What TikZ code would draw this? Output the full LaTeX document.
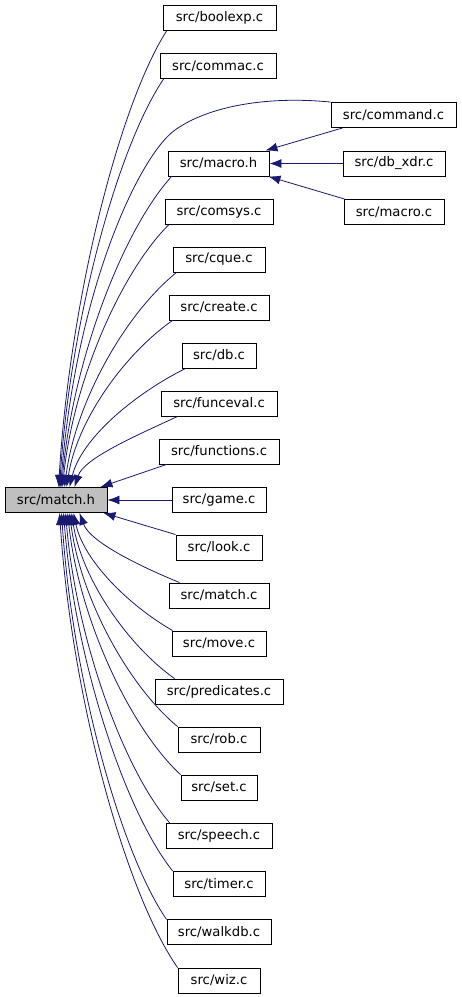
\documentclass[tikz,border=0pt]{standalone}
\usepackage{fontspec}
\setmainfont{DejaVu Sans}
\usetikzlibrary{arrows.meta,calc}
\definecolor{edgecol}{HTML}{191970}
\definecolor{hl}{HTML}{BFBFBF}
\begin{document}
\begin{tikzpicture}[x=1pt,y=-1pt,
  box/.style={draw=black, line width=0.9pt, minimum height=25pt, inner sep=0pt, font=\fontsize{13.2}{15}\selectfont},
  edge/.style={draw=edgecol, line width=0.8pt, -{Latex[length=12pt,width=9pt]}}]
\fill[white] (0,0) rectangle (461,997);
\useasboundingbox (0,0) rectangle (461,997);
% nodes
\node[box, minimum width=102pt, fill=hl] (matchh) at (56,500) {src/match.h};
\node[box, minimum width=113pt] (boolexp) at (219.5,18) {src/boolexp.c};
\node[box, minimum width=116pt] (commac) at (218,66.1) {src/commac.c};
\node[box, minimum width=125pt] (command) at (393.5,115) {src/command.c};
\node[box, minimum width=101pt] (macroh) at (218.5,163.5) {src/macro.h};
\node[box, minimum width=102pt] (dbxdr) at (394,163.5) {src/db\_xdr.c};
\node[box, minimum width=100pt] (macroc) at (394,212) {src/macro.c};
\node[box, minimum width=108pt] (comsys) at (219,212) {src/comsys.c};
\node[box, minimum width=92pt] (cque) at (219,259.5) {src/cque.c};
\node[box, minimum width=100pt] (create) at (219,307.5) {src/create.c};
\node[box, minimum width=74pt] (db) at (219,355.5) {src/db.c};
\node[box, minimum width=116pt] (funceval) at (219,403.5) {src/funceval.c};
\node[box, minimum width=120pt] (functions) at (219,451.5) {src/functions.c};
\node[box, minimum width=94pt] (game) at (219,500) {src/game.c};
\node[box, minimum width=86pt] (look) at (219,547.5) {src/look.c};
\node[box, minimum width=100pt] (matchc) at (219,595.5) {src/match.c};
\node[box, minimum width=94pt] (move) at (219,643.5) {src/move.c};
\node[box, minimum width=128pt] (predicates) at (219,691.5) {src/predicates.c};
\node[box, minimum width=82pt] (rob) at (219,739.5) {src/rob.c};
\node[box, minimum width=76pt] (set) at (219,787.6) {src/set.c};
\node[box, minimum width=106pt] (speech) at (219,835.7) {src/speech.c};
\node[box, minimum width=92pt] (timer) at (219,883.8) {src/timer.c};
\node[box, minimum width=104pt] (walkdb) at (219,932.4) {src/walkdb.c};
\node[box, minimum width=82pt] (wiz) at (219,980.5) {src/wiz.c};
% edges to match.h (upper)
\draw[edge] ([xshift=4pt]boolexp.south west) .. controls +(-48.6,76.5) and +(10.8,-182.6) .. ([xshift=54pt]matchh.north west);
\draw[edge] ([xshift=4pt]commac.south west) .. controls +(-46.8,69.3) and +(10.4,-163.4) .. ([xshift=55pt]matchh.north west);
\draw[edge] (command.north west) .. controls +(-60,-6) and +(35,-25) .. (175,130) .. controls +(-35,25) and +(16,-200) .. ([xshift=56pt]matchh.north west);
\draw[edge] ([xshift=4pt]macroh.south west) .. controls +(-49.5,54.8) and +(11,-124.9) .. ([xshift=57pt]matchh.north west);
\draw[edge] ([xshift=4pt]comsys.south west) .. controls +(-47.7,47.6) and +(10.6,-105.6) .. ([xshift=58pt]matchh.north west);
\draw[edge] ([xshift=4pt]cque.south west) .. controls +(-50.4,40.4) and +(11.2,-86.4) .. ([xshift=60pt]matchh.north west);
\draw[edge] ([xshift=4pt]create.south west) .. controls +(-47.7,33.2) and +(10.6,-67.2) .. ([xshift=62pt]matchh.north west);
\draw[edge] ([xshift=4pt]db.south west) .. controls +(-52.2,26) and +(11.6,-47.9) .. ([xshift=65pt]matchh.north west);
\draw[edge] ([xshift=17pt]funceval.south west) .. controls +(-40.5,18.8) and +(9,-28.7) .. ([xshift=70pt]matchh.north west);
\draw[edge] ([xshift=8pt]functions.south west) -- ([xshift=-7pt]matchh.north east);
\draw[edge] (game.west) -- (matchh.east);
% edges to match.h (lower)
\draw[edge] (look.north west) -- ([xshift=-4pt]matchh.south east);
\draw[edge] ([xshift=11pt]matchc.north west) .. controls +(-45,-18.5) and +(10,28) .. ([xshift=75pt]matchh.south west);
\draw[edge] ([xshift=1pt]move.north west) .. controls +(-44.6,-25.7) and +(9.9,47.2) .. ([xshift=69pt]matchh.south west);
\draw[edge] ([xshift=20pt]predicates.north west) .. controls +(-46.4,-32.9) and +(10.3,66.4) .. ([xshift=67pt]matchh.south west);
\draw[edge] (rob.north west) .. controls +(-48.6,-40.1) and +(10.8,85.6) .. ([xshift=65pt]matchh.south west);
\draw[edge] (set.north west) .. controls +(-50.9,-47.3) and +(11.3,104.8) .. ([xshift=63pt]matchh.south west);
\draw[edge] ([xshift=4pt]speech.north west) .. controls +(-46.8,-54.5) and +(10.4,124) .. ([xshift=61pt]matchh.south west);
\draw[edge] (timer.north west) .. controls +(-49,-61.7) and +(10.9,143.2) .. ([xshift=59pt]matchh.south west);
\draw[edge] (walkdb.north west) .. controls +(-47.3,-68.9) and +(10.5,162.4) .. ([xshift=57pt]matchh.south west);
\draw[edge] (wiz.north west) .. controls +(-53.1,-76.3) and +(11.8,182) .. ([xshift=55pt]matchh.south west);
% edges to macro.h
\draw[edge] ([xshift=12pt]command.south west) -- ([xshift=-4pt]macroh.north east);
\draw[edge] (dbxdr.west) -- (macroh.east);
\draw[edge] ([xshift=1pt]macroc.north west) -- ([xshift=-1pt]macroh.south east);
\end{tikzpicture}
\end{document}
